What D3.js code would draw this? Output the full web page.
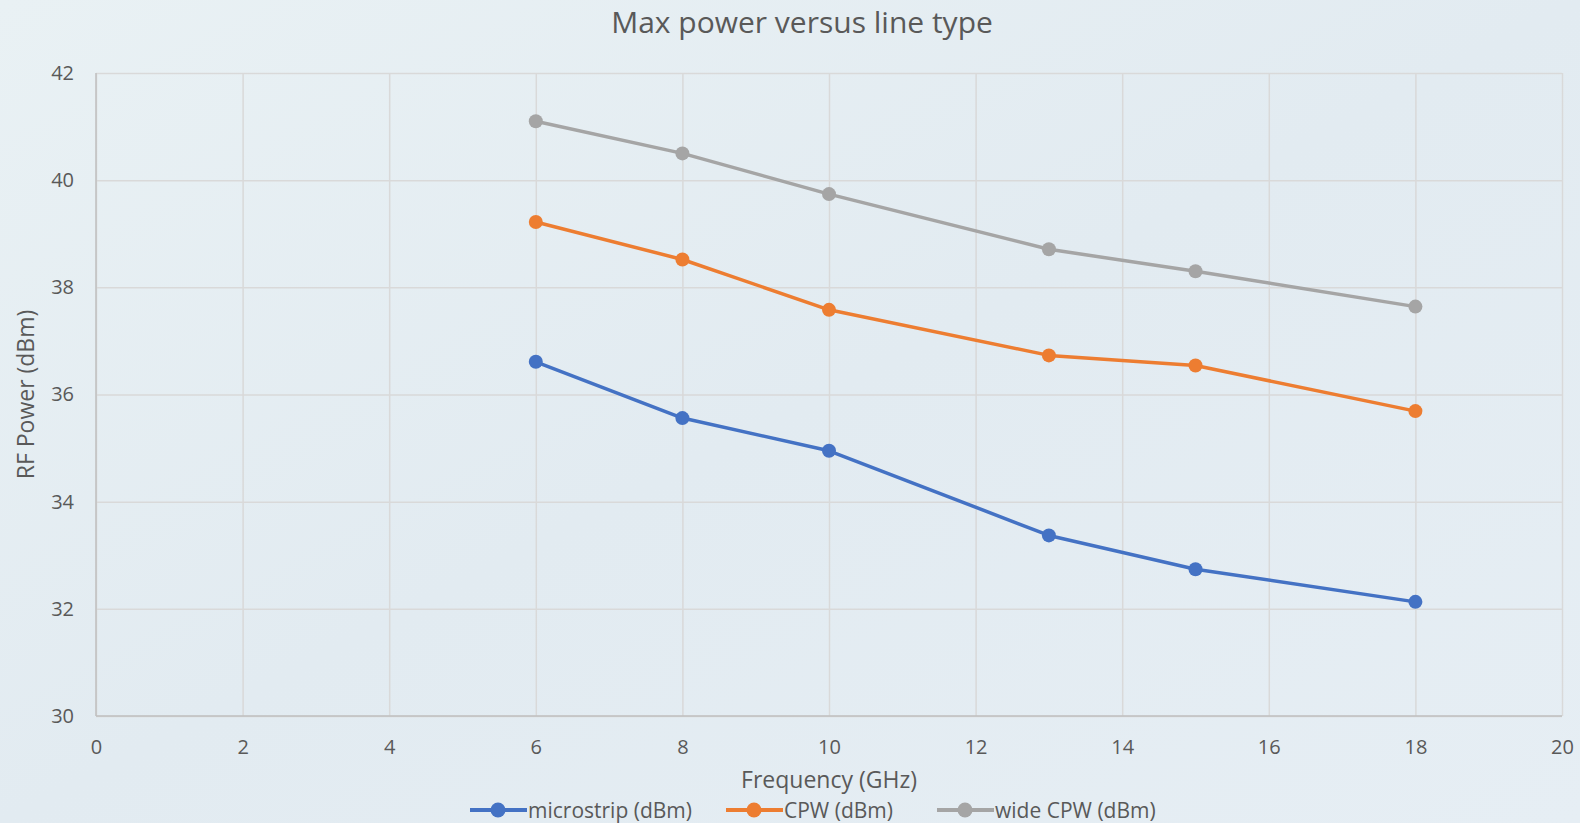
<!DOCTYPE html>
<html>
<head>
<meta charset="utf-8">
<script src="https://cdn.jsdelivr.net/npm/d3@7"></script>
<style>
  html, body { margin: 0; padding: 0; }
  body { width: 1580px; height: 823px; overflow: hidden; font-family: "Open Sans", "Liberation Sans", sans-serif; }
</style>
</head>
<body>
<svg id="chart"></svg>
<script>
// chart data
let frequencies = [6, 8, 10, 13, 15, 18]
let microstrip = [36.61, 35.56, 34.95, 33.37, 32.74, 32.13]
let cpw = [39.22, 38.52, 37.58, 36.73, 36.54, 35.69]
let wideCpw = [41.10, 40.50, 39.74, 38.71, 38.30, 37.64]
let seriesNames = ['microstrip (dBm)', 'CPW (dBm)', 'wide CPW (dBm)']
let xTicks = [0, 2, 4, 6, 8, 10, 12, 14, 16, 18, 20]
let yTicks = [30, 32, 34, 36, 38, 40, 42]

let colors = ['#4472C4', '#ED7D31', '#A5A5A5']
let allSeries = [microstrip, cpw, wideCpw]

// canvas size and plot area
let width = 1580
let height = 823
let plotLeft = 96, plotRight = 1562, plotTop = 73, plotBottom = 716

let svg = d3.select('#chart').attr('width', width).attr('height', height)

// background
let defs = svg.append('defs')
let grad = defs.append('linearGradient').attr('id', 'bg')
    .attr('x1', 0).attr('y1', 0).attr('x2', 1).attr('y2', 1)
grad.append('stop').attr('offset', '0%').attr('stop-color', '#e9f1f4')
grad.append('stop').attr('offset', '50%').attr('stop-color', '#e2ebf1')
grad.append('stop').attr('offset', '100%').attr('stop-color', '#e6eef4')
svg.append('rect').attr('width', width).attr('height', height).attr('fill', 'url(#bg)')

// scales
let xScale = d3.scaleLinear().domain([0, 20]).range([plotLeft, plotRight])
let yScale = d3.scaleLinear().domain([30, 42]).range([plotBottom, plotTop])

// gridlines
svg.append('g')
    .attr('transform', 'translate(0,' + plotBottom + ')')
    .call(d3.axisBottom(xScale).tickValues(xTicks).tickSize(-(plotBottom - plotTop)).tickFormat(''))
    .call(g => g.select('.domain').remove())
    .call(g => g.selectAll('line').attr('stroke', '#d9d9d9').attr('stroke-width', 1.5))

svg.append('g')
    .attr('transform', 'translate(' + plotLeft + ',0)')
    .call(d3.axisLeft(yScale).tickValues(yTicks).tickSize(-(plotRight - plotLeft)).tickFormat(''))
    .call(g => g.select('.domain').remove())
    .call(g => g.selectAll('line').attr('stroke', '#d9d9d9').attr('stroke-width', 1.5))

// axis lines
svg.append('line').attr('x1', plotLeft).attr('x2', plotLeft).attr('y1', plotTop).attr('y2', plotBottom)
    .attr('stroke', '#bfbfbf').attr('stroke-width', 1.5)
svg.append('line').attr('x1', plotLeft).attr('x2', plotRight).attr('y1', plotBottom).attr('y2', plotBottom)
    .attr('stroke', '#bfbfbf').attr('stroke-width', 1.5)

// tick labels
let xAxis = svg.append('g')
    .attr('transform', 'translate(0,' + plotBottom + ')')
    .call(d3.axisBottom(xScale).tickValues(xTicks).tickSize(0).tickPadding(24))
xAxis.select('.domain').remove()
xAxis.selectAll('text').attr('font-size', 20).attr('fill', '#595959')
    .attr('font-family', '"Open Sans", sans-serif')

let yAxis = svg.append('g')
    .attr('transform', 'translate(' + plotLeft + ',0)')
    .call(d3.axisLeft(yScale).tickValues(yTicks).tickSize(0).tickPadding(22))
yAxis.select('.domain').remove()
yAxis.selectAll('text').attr('font-size', 20).attr('fill', '#595959')
    .attr('font-family', '"Open Sans", sans-serif')

// lines + markers
let line = d3.line()
    .x((d, i) => xScale(frequencies[i]))
    .y(d => yScale(d))

allSeries.forEach((values, s) => {
    svg.append('path')
        .datum(values)
        .attr('d', line)
        .attr('fill', 'none')
        .attr('stroke', colors[s])
        .attr('stroke-width', 3.5)
        .attr('stroke-linejoin', 'round')
    svg.selectAll('.dot' + s)
        .data(values)
        .enter()
        .append('circle')
        .attr('cx', (d, i) => xScale(frequencies[i]))
        .attr('cy', d => yScale(d))
        .attr('r', 7)
        .attr('fill', colors[s])
})

// title
svg.append('text')
    .attr('x', 802).attr('y', 33)
    .attr('text-anchor', 'middle')
    .attr('font-size', 30)
    .attr('fill', '#595959')
    .text('Max power versus line type')

// axis titles
svg.append('text')
    .attr('x', 829).attr('y', 788)
    .attr('text-anchor', 'middle')
    .attr('font-size', 23)
    .attr('fill', '#595959')
    .text('Frequency (GHz)')

svg.append('text')
    .attr('transform', 'translate(34,' + ((plotTop + plotBottom) / 2) + ') rotate(-90)')
    .attr('text-anchor', 'middle')
    .attr('font-size', 23)
    .attr('fill', '#595959')
    .text('RF Power (dBm)')

// legend
let legendX = [470, 726, 937]
let legendY = 810
seriesNames.forEach((name, s) => {
    let g = svg.append('g').attr('transform', 'translate(' + legendX[s] + ',' + legendY + ')')
    g.append('line').attr('x1', 0).attr('x2', 57).attr('y1', 0).attr('y2', 0)
        .attr('stroke', colors[s]).attr('stroke-width', 4)
    g.append('circle').attr('cx', 28).attr('cy', 0).attr('r', 7.5).attr('fill', colors[s])
    g.append('text').attr('x', 58).attr('y', 7.5)
        .attr('font-size', 21).attr('fill', '#595959')
        .text(name)
})
</script>
</body>
</html>
